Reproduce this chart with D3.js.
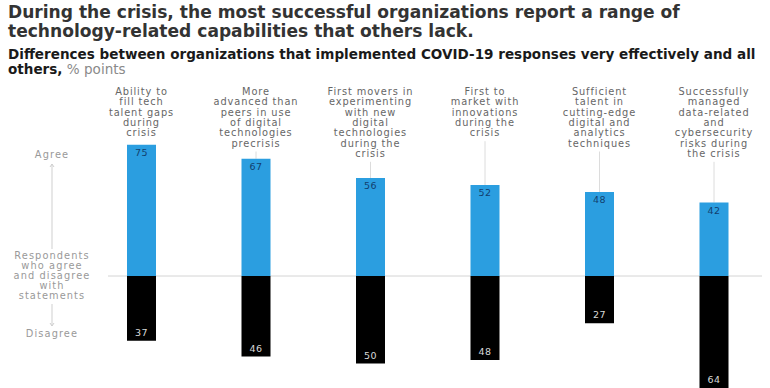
<!DOCTYPE html>
<html>
<head>
<meta charset="utf-8">
<script src="https://cdn.jsdelivr.net/npm/d3@7"></script>
<style>
  html, body { margin: 0; padding: 0; background: #fff; }
  svg { display: block; }
</style>
</head>
<body>
<svg id="chart" width="770" height="388"></svg>
<script>
// Capability statements (each label is split into its printed lines)
const categories = [
  ["Ability to", "fill tech", "talent gaps", "during", "crisis"],
  ["More", "advanced than", "peers in use", "of digital", "technologies", "precrisis"],
  ["First movers in", "experimenting", "with new", "digital", "technologies", "during the", "crisis"],
  ["First to", "market with", "innovations", "during the", "crisis"],
  ["Sufficient", "talent in", "cutting-edge", "digital and", "analytics", "techniques"],
  ["Successfully", "managed", "data-related", "and", "cybersecurity", "risks during", "the crisis"]
];
// % of respondents who agree / disagree
const agreeValues = [75, 67, 56, 52, 48, 42];
const disagreeValues = [37, 46, 50, 48, 27, 64];

const svg = d3.select("#chart");
const FONT = "'DejaVu Sans', 'Liberation Sans', sans-serif";

const keys = categories.map((c, i) => i);
const x = d3.scalePoint().domain(keys).range([141.5, 714]).padding(0);
const y = d3.scaleLinear().domain([-70, 80]).range([398.5, 136]);
const barW = 29;

// Scale a text's font size so that it spans a given width
function fitWidth(sel, width) {
  const node = sel.node();
  const fs = parseFloat(sel.attr("font-size"));
  const w = node.getComputedTextLength();
  sel.attr("font-size", (fs * width / w).toFixed(2));
}

// Title
const t1 = svg.append("text").attr("x", 8).attr("y", 18)
  .attr("font-family", FONT).attr("font-weight", "bold").attr("font-size", 16).attr("fill", "#333")
  .text("During the crisis, the most successful organizations report a range of");
fitWidth(t1, 672);
svg.append("text").attr("x", 8).attr("y", 37)
  .attr("font-family", FONT).attr("font-weight", "bold").attr("font-size", t1.attr("font-size")).attr("fill", "#333")
  .text("technology-related capabilities that others lack.");

// Subtitle
const s1 = svg.append("text").attr("x", 8).attr("y", 59)
  .attr("font-family", FONT).attr("font-weight", "bold").attr("font-size", 12).attr("fill", "#1a1a1a")
  .text("Differences between organizations that implemented COVID-19 responses very effectively and all");
fitWidth(s1, 748);
const s2 = svg.append("text").attr("x", 8).attr("y", 74)
  .attr("font-family", FONT).attr("font-size", s1.attr("font-size")).attr("fill", "#1a1a1a");
s2.append("tspan").attr("font-weight", "bold").text("others,");
s2.append("tspan").attr("fill", "#8a8a8a").text(" % points");

// Zero baseline
svg.append("line")
  .attr("x1", 108).attr("x2", 762)
  .attr("y1", y(0)).attr("y2", y(0))
  .attr("stroke", "#d4d4d4").attr("stroke-width", 1);

// Category labels and connector lines
const lineH = 10.3;
const labelTop = 95;
categories.forEach((lines, i) => {
  const cx = x(i);
  const g = svg.append("g").attr("font-family", FONT).attr("font-size", 9.8)
    .attr("letter-spacing", 0.9).attr("fill", "#666").attr("text-anchor", "middle");
  lines.forEach((t, j) => {
    g.append("text").attr("x", cx).attr("y", labelTop + j * lineH).text(t);
  });
  const labelBottom = labelTop + (lines.length - 1) * lineH + 5;
  const barTop = y(agreeValues[i]);
  if (barTop - labelBottom > 4) {
    svg.append("line")
      .attr("x1", cx).attr("x2", cx)
      .attr("y1", labelBottom).attr("y2", barTop)
      .attr("stroke", "#dcdcdc").attr("stroke-width", 1);
  }
});

// Agree bars
svg.append("g").selectAll("rect").data(agreeValues).join("rect")
  .attr("x", (d, i) => x(i) - barW / 2)
  .attr("y", d => y(d))
  .attr("width", barW)
  .attr("height", d => y(0) - y(d))
  .attr("fill", "#2b9ee0");

// Disagree bars
svg.append("g").selectAll("rect").data(disagreeValues).join("rect")
  .attr("x", (d, i) => x(i) - barW / 2)
  .attr("y", y(0))
  .attr("width", barW)
  .attr("height", d => y(-d) - y(0))
  .attr("fill", "#000");

// Value labels
svg.append("g").attr("font-family", FONT).attr("font-size", 9.5).attr("text-anchor", "middle")
  .attr("letter-spacing", 0.5)
  .selectAll("text").data(agreeValues).join("text")
  .attr("x", (d, i) => x(i))
  .attr("y", d => y(d) + 11)
  .attr("fill", "#123f6e")
  .text(d => d);
svg.append("g").attr("font-family", FONT).attr("font-size", 9.5).attr("text-anchor", "middle")
  .attr("letter-spacing", 0.5)
  .selectAll("text").data(disagreeValues).join("text")
  .attr("x", (d, i) => x(i))
  .attr("y", d => y(-d) - 5)
  .attr("fill", "#d8d8d8")
  .text(d => d);

// Left-hand key: Agree / Respondents ... / Disagree
const key = svg.append("g").attr("font-family", FONT).attr("font-size", 9.8)
  .attr("letter-spacing", 1.1).attr("fill", "#999").attr("text-anchor", "middle");
const kx = 52;
key.append("text").attr("x", kx).attr("y", 158).text("Agree");
["Respondents", "who agree", "and disagree", "with", "statements"].forEach((t, j) => {
  key.append("text").attr("x", kx).attr("y", 259 + j * 10).text(t);
});
key.append("text").attr("x", kx).attr("y", 337).text("Disagree");

const axisStroke = "#cfcfcf";
svg.append("line").attr("x1", kx).attr("x2", kx).attr("y1", 164).attr("y2", 249)
  .attr("stroke", axisStroke).attr("stroke-width", 1);
svg.append("path").attr("d", `M${kx - 2},${167} L${kx},${164} L${kx + 2},${167}`)
  .attr("fill", "none").attr("stroke", axisStroke);
svg.append("line").attr("x1", kx).attr("x2", kx).attr("y1", 304).attr("y2", 326)
  .attr("stroke", axisStroke).attr("stroke-width", 1);
svg.append("path").attr("d", `M${kx - 2},${323} L${kx},${326} L${kx + 2},${323}`)
  .attr("fill", "none").attr("stroke", axisStroke);
</script>
</body>
</html>
